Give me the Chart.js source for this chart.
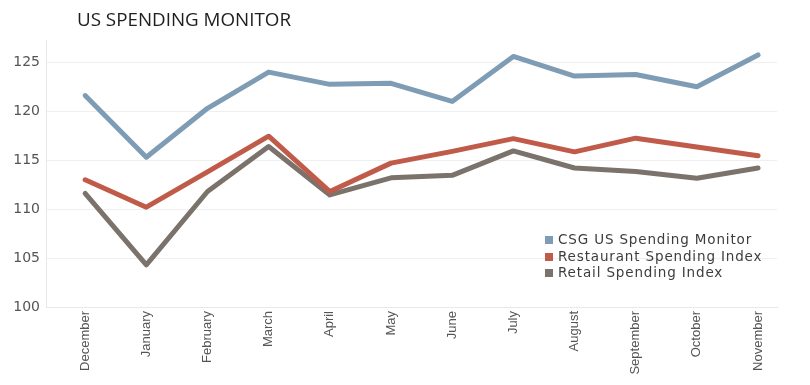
<!DOCTYPE html>
<html>
<head>
<meta charset="utf-8">
<script src="https://cdn.jsdelivr.net/npm/chart.js@4/dist/chart.umd.min.js"></script>
<style>
  html, body { margin: 0; padding: 0; background: #ffffff; }
  #wrap { position: relative; width: 810px; height: 385px; overflow: hidden; }
  #title { position: absolute; left: 77px; top: 6px; font-family: "Open Sans", sans-serif; font-size: 18.8px; color: #1e1e1e; white-space: nowrap; }
  #legend { position: absolute; left: 545px; top: 231px; font-family: "DejaVu Sans", sans-serif; font-size: 13.5px; color: #3d3d3d; letter-spacing: 0.85px; }
  #legend .row { height: 16.7px; line-height: 16.7px; white-space: nowrap; }
  #legend .sw { display: inline-block; width: 8px; height: 8px; margin-right: 5px; vertical-align: 0px; }
  canvas { position: absolute; left: 0; top: 0; }
</style>
</head>
<body>
<div id="wrap">
  <canvas id="c" width="810" height="385"></canvas>
  <div id="title">US SPENDING MONITOR</div>
  <div id="legend"></div>
</div>
<script>
const months = ["December","January","February","March","April","May","June","July","August","September","October","November"];
const csgMonitor = [121.6, 115.3, 120.3, 124.0, 122.75, 122.85, 121.0, 125.6, 123.6, 123.75, 122.5, 125.75];
const restaurantIndex = [113.0, 110.2, 113.8, 117.45, 111.8, 114.7, 115.9, 117.2, 115.85, 117.25, 116.35, 115.45];
const retailIndex = [111.6, 104.3, 111.8, 116.4, 111.45, 113.2, 113.45, 115.95, 114.2, 113.85, 113.15, 114.2];
const yTicks = [100, 105, 110, 115, 120, 125];
const seriesNames = ["CSG US Spending Monitor", "Restaurant Spending Index", "Retail Spending Index"];
const seriesColors = ["#7f9cb5", "#c05b49", "#7b736b"];

const seriesValues = [csgMonitor, restaurantIndex, retailIndex];
const datasets = seriesValues.map((vals, s) => ({
  label: seriesNames[s],
  data: vals.map((v, i) => ({ x: i, y: v })),
  borderColor: seriesColors[s],
  backgroundColor: seriesColors[s],
  borderWidth: 5,
  pointRadius: 0,
  pointHoverRadius: 0,
  tension: 0,
  fill: false,
  borderCapStyle: 'round',
  borderJoinStyle: 'round'
}));

new Chart(document.getElementById('c'), {
  type: 'line',
  data: { datasets },
  options: {
    responsive: false,
    animation: false,
    devicePixelRatio: 1,
    layout: { padding: { top: 40, right: 33, bottom: 0, left: 0 } },
    plugins: { legend: { display: false }, tooltip: { enabled: false }, title: { display: false } },
    scales: {
      x: {
        type: 'linear',
        min: -0.64,
        max: 11.31,
        afterBuildTicks: (scale) => { scale.ticks = months.map((m, i) => ({ value: i })); },
        afterFit: (scale) => { scale.height = 78; scale.paddingLeft = 0; scale.paddingRight = 0; },
        grid: { display: false, drawTicks: false },
        border: { display: true, color: '#e8e8e8', width: 1 },
        ticks: {
          autoSkip: false,
          minRotation: 90,
          maxRotation: 90,
          padding: 4,
          color: '#555555',
          font: { family: '"Liberation Sans", Arial, sans-serif', size: 13 },
          callback: (v) => months[Math.round(v)]
        }
      },
      y: {
        type: 'linear',
        min: 100,
        max: 127.28,
        afterBuildTicks: (scale) => { scale.ticks = yTicks.map(v => ({ value: v })); },
        afterFit: (scale) => { scale.width = 46; scale.paddingTop = 0; scale.paddingBottom = 0; },
        grid: { color: '#efefef', lineWidth: 1, drawTicks: false },
        border: { display: true, color: '#e8e8e8', width: 1 },
        ticks: {
          padding: 6,
          color: '#555555',
          font: { family: '"DejaVu Sans", sans-serif', size: 14 },
          callback: (v) => String(v)
        }
      }
    }
  }
});

const legend = document.getElementById('legend');
seriesNames.forEach((name, i) => {
  const row = document.createElement('div');
  row.className = 'row';
  const sw = document.createElement('span');
  sw.className = 'sw';
  sw.style.background = seriesColors[i];
  row.appendChild(sw);
  row.appendChild(document.createTextNode(name));
  legend.appendChild(row);
});
</script>
</body>
</html>
